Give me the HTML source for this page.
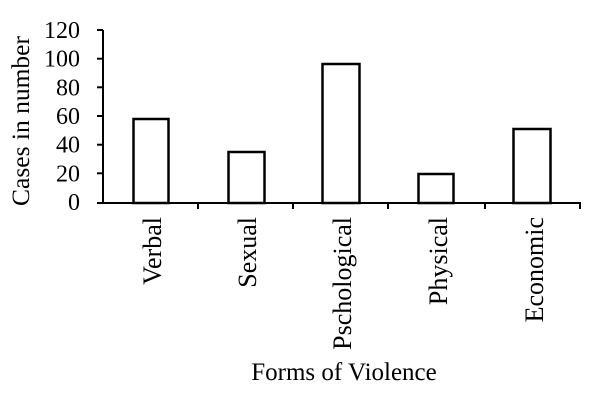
<!DOCTYPE html>
<html><head><style>html,body{margin:0;padding:0;background:#fff}</style></head><body>
<svg width="600" height="402" xmlns="http://www.w3.org/2000/svg" font-family="Liberation Serif, serif" fill="#000">
<g stroke="#000" stroke-width="2">
<line x1="103" y1="30" x2="103" y2="203"/>
<line x1="102" y1="203" x2="581" y2="203"/>
<line x1="97" y1="30" x2="103" y2="30"/>
<line x1="97" y1="58.7" x2="103" y2="58.7"/>
<line x1="97" y1="87.3" x2="103" y2="87.3"/>
<line x1="97" y1="116" x2="103" y2="116"/>
<line x1="97" y1="144.7" x2="103" y2="144.7"/>
<line x1="97" y1="173.3" x2="103" y2="173.3"/>
<line x1="97" y1="203" x2="103" y2="203"/>
<line x1="198" y1="203" x2="198" y2="209"/>
<line x1="293" y1="203" x2="293" y2="209"/>
<line x1="388" y1="203" x2="388" y2="209"/>
<line x1="485" y1="203" x2="485" y2="209"/>
<line x1="580" y1="203" x2="580" y2="209"/>
</g>
<g stroke="#000" stroke-width="2.5" fill="#fff">
<rect x="133.5" y="119" width="35" height="84"/>
<rect x="228.5" y="152" width="36" height="51"/>
<rect x="322.5" y="64" width="37" height="139"/>
<rect x="418.5" y="174" width="35" height="29"/>
<rect x="513.5" y="129" width="37" height="74"/>
</g>
<g font-size="24" text-anchor="end">
<text x="80" y="38">120</text>
<text x="80" y="66.7">100</text>
<text x="80" y="95.3">80</text>
<text x="80" y="124">60</text>
<text x="80" y="152.7">40</text>
<text x="80" y="181.3">20</text>
<text x="80" y="210">0</text>
</g>
<text font-size="25.5" text-anchor="middle" transform="translate(29,121) rotate(-90)">Cases in number</text>
<g font-size="26" text-anchor="end">
<text transform="translate(161,217) rotate(-90)">Verbal</text>
<text transform="translate(256,217) rotate(-90)">Sexual</text>
<text transform="translate(351,217) rotate(-90)">Pschological</text>
<text transform="translate(447,217) rotate(-90)">Physical</text>
<text transform="translate(543,217) rotate(-90)">Economic</text>
</g>
<text font-size="25" text-anchor="middle" x="344" y="380">Forms of Violence</text>
</svg>
</body></html>
